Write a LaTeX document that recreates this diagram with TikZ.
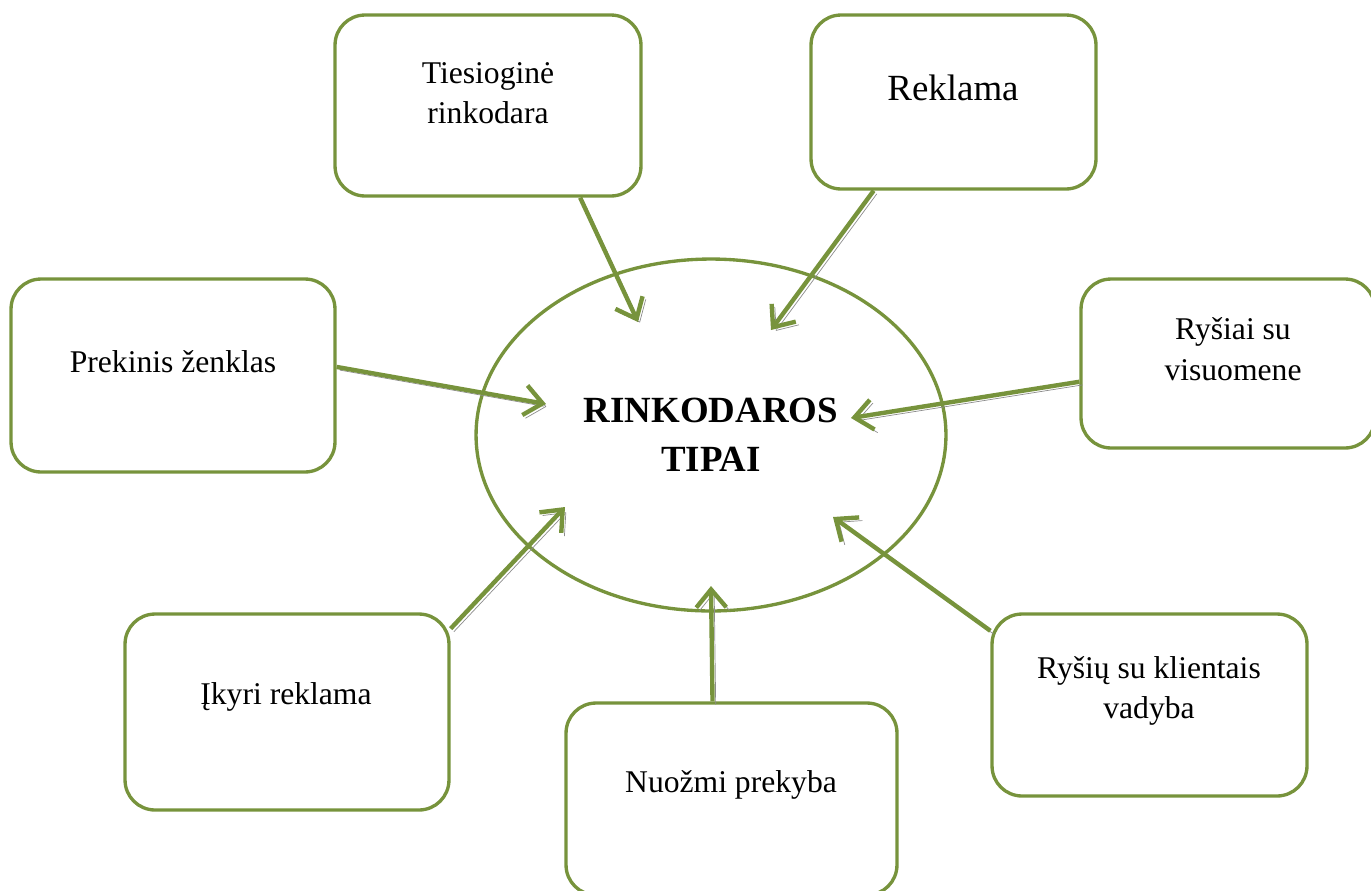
\documentclass[tikz,border=0pt]{standalone}
\usepackage{fontspec}
\setmainfont{Liberation Serif}
\usetikzlibrary{arrows.meta, shapes.geometric, calc}
\definecolor{cgreen}{HTML}{77933C}
\definecolor{cshadow}{HTML}{8C8C8C}
\tikzset{
  every picture/.style={x=0.02cm, y=-0.02cm},
  box/.style={draw=cgreen, line width=1.9pt, rounded corners=0.6cm, inner sep=0pt},
  txt/.style={align=center, font=\fontsize{18}{23}\selectfont},
  arrow/.style={-{Straight Barb[length=3.6mm, width=6mm]}, draw=cgreen, line width=2.5pt,
    preaction={draw=cshadow, transform canvas={shift={(1.8pt,-1.8pt)}}}},
}

\begin{document}
\begin{tikzpicture}
  \useasboundingbox (0,0) rectangle (1371,890);
  % centre
  \node[ellipse, draw=cgreen, line width=1.9pt, minimum width=9.4cm, minimum height=7.04cm, inner sep=0pt,
    align=center, font=\fontsize{21}{28}\selectfont\bfseries] (tipai) at (711,435) {RINKODAROS\\TIPAI};
  % boxes round it
  \node[box, minimum width=6.12cm, minimum height=3.62cm] (tr) at (488,105.5) {};
  \node[txt] (trtext) at (488,93) {Tiesioginė\\rinkodara};
  \node[box, minimum width=5.7cm, minimum height=3.48cm] (rk) at (953.5,102) {};
  \node[txt, font=\fontsize{21}{25}\selectfont] (rktext) at (953,88) {Reklama};
  \node[box, minimum width=6.48cm, minimum height=3.86cm] (pz) at (173,375.5) {};
  \node[txt] (pztext) at (173,362) {Prekinis ženklas};
  \node[box, minimum width=5.88cm, minimum height=3.38cm] (rv) at (1228,363.5) {};
  \node[txt] (rvtext) at (1233,349) {Ryšiai su\\visuomene};
  \node[box, minimum width=6.48cm, minimum height=3.92cm] (ik) at (287,712) {};
  \node[txt] (iktext) at (286,697) {Įkyri reklama};
  \node[box, minimum width=6.62cm, minimum height=3.84cm] (np) at (731.5,799) {};
  \node[txt] (nptext) at (731,785) {Nuožmi prekyba};
  \node[box, minimum width=6.3cm, minimum height=3.64cm] (kv) at (1149.5,705) {};
  \node[txt] (kvtext) at (1149,691) {Ryšių su klientais\\vadyba};
  % arrow ends
  \coordinate (trend) at (638,322);
  \coordinate (rkend) at (771,330);
  \coordinate (pzend) at (546,404);
  \coordinate (rvend) at (851,418);
  \coordinate (ikend) at (565,507);
  \coordinate (npend) at (711,586);
  \coordinate (kvend) at (833,517);
  % arrows
  \draw[arrow] (tr.-45) -- (trend);
  \draw[arrow] (rk.-132) -- (rkend);
  \draw[arrow] (pz.3) -- (pzend);
  \draw[arrow] (rv.-173) -- (rvend);
  \draw[arrow] (ik.27) -- (ikend);
  \draw[arrow] (np.101) -- (npend);
  \draw[arrow] (kv.155) -- (kvend);
\end{tikzpicture}
\end{document}
